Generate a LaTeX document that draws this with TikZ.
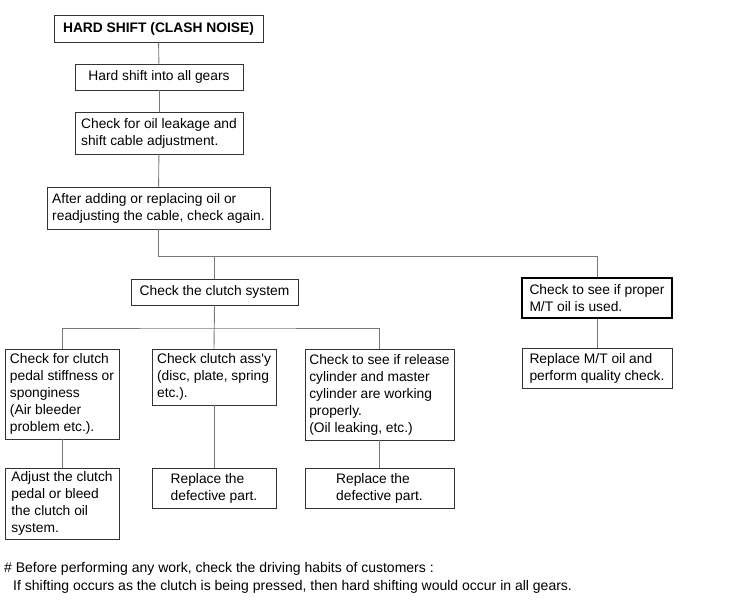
\documentclass[tikz,border=0pt]{standalone}
\usepackage{fontspec}
\setmainfont{Liberation Sans}
\definecolor{boxline}{gray}{0.2}
\definecolor{linkline}{gray}{0.47}
\tikzset{
	box/.style={rectangle, draw=boxline, line width=0.8pt, align=left, inner sep=0pt,
		font=\fontsize{13.8}{17}\selectfont},
	keybox/.style={box, draw=black, line width=1.6pt},
	link/.style={draw=linkline, line width=0.9pt},
	note/.style={inner sep=0pt, anchor=base west, font=\fontsize{14}{16}\selectfont},
}
\begin{document}
\begin{tikzpicture}[x=1pt, y=-1pt]
	\useasboundingbox (0,0) rectangle (732,606);

	% main chain
	\node[box, minimum width=209pt, minimum height=27pt, font=\fontsize{13.8}{17}\selectfont\bfseries]
		(title) at (158.5, 28.5) {HARD SHIFT (CLASH NOISE)};
	\node[box, minimum width=168pt, minimum height=26pt] (gears) at (159, 77)
		{Hard shift into all gears};
	\node[box, minimum width=168pt, minimum height=42pt] (leak) at (159, 133)
		{Check for oil leakage and\\shift cable adjustment.};
	\node[box, minimum width=223pt, minimum height=42pt] (again) at (158.5, 208)
		{After adding or replacing oil or\\readjusting the cable, check again.};

	% clutch branch
	\node[box, minimum width=167pt, minimum height=26pt] (clutch) at (214.5, 292)
		{Check the clutch system};
	\node[box, minimum width=114pt, minimum height=90pt] (pedal) at (62, 394)
		{Check for clutch\\pedal stiffness or\\sponginess\\(Air bleeder\\problem etc.).};
	\node[box, minimum width=124pt, minimum height=56pt] (assy) at (214, 377)
		{Check clutch ass\textquotesingle y\\(disc, plate, spring\\etc.).};
	\node[box, minimum width=149pt, minimum height=91pt] (release) at (379.5, 394.5)
		{Check to see if release\\cylinder and master\\cylinder are working\\properly.\\(Oil leaking, etc.)};
	\node[box, minimum width=114pt, minimum height=71pt] (bleed) at (62, 503.5)
		{Adjust the clutch\\pedal or bleed\\the clutch oil\\system.};
	\node[box, minimum width=124pt, minimum height=40pt] (partA) at (214, 488)
		{Replace the\\defective part.};
	\node[box, minimum width=149pt, minimum height=40pt] (partB) at (379.5, 488)
		{Replace the\\defective part.};

	% oil branch
	\node[keybox, minimum width=150pt, minimum height=40pt] (proper) at (597, 298)
		{Check to see if proper\\M/T oil is used.};
	\node[box, minimum width=150pt, minimum height=40pt] (oil) at (597, 368)
		{Replace M/T oil and\\perform quality check.};

	% connectors
	\draw[link] (title) -- (gears);
	\draw[link] (gears) -- (leak);
	\draw[link] (leak) -- (again);
	\draw[link] (again.south) -- ++(0, 27) coordinate (fork) -| (proper.north);
	\draw[link] (clutch.north) -- (clutch.north |- fork);
	\draw[link] (clutch.south) -- (assy.north);
	\coordinate (bar) at (214.5, 328);
	\draw[link] (pedal.north) |- (bar) -| (release.north);
	\draw[link] (pedal) -- (bleed);
	\draw[link] (assy) -- (partA);
	\draw[link] (release) -- (partB);
	\draw[link] (proper) -- (oil);

	% footnote
	\node[note] (note1) at (4, 572)
		{\# Before performing any work, check the driving habits of customers :};
	\node[note] (note2) at (13, 590)
		{If shifting occurs as the clutch is being pressed, then hard shifting would occur in all gears.};
\end{tikzpicture}
\end{document}
